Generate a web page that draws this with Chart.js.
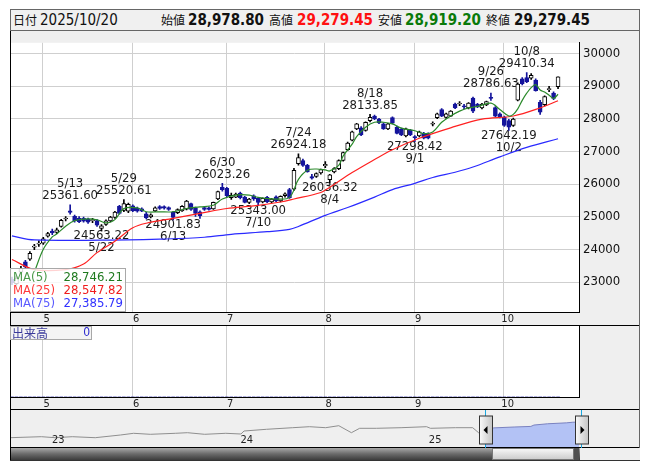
<!DOCTYPE html>
<html>
<head>
<meta charset="utf-8">
<title>JPX日足</title>
<script src="https://cdn.jsdelivr.net/npm/chart.js@4.4.1/dist/chart.umd.min.js"></script>
<style>
    body { margin: 0; width: 653px; height: 470px; background: #fff; position: relative; overflow: hidden; }
    .abs { position: absolute; }
    #head { left: 10px; top: 9px; width: 628px; height: 20px; background: #f0f0f0; border: 1px solid #666; }
    #head span { position: absolute; top: 0; line-height: 20px; white-space: nowrap; color: #111; }
    .jp { font-family: "Noto Sans CJK JP", sans-serif; font-size: 12px; }
    .num { font-family: "DejaVu Sans Condensed", "DejaVu Sans", sans-serif; font-size: 15px; }
    .b { font-weight: bold; }
    #maBox { left: 10px; top: 268px; width: 114px; height: 42px; border: 1px solid #a8a8a8; background: rgba(255, 255, 255, 0.8);
        font-family: "DejaVu Sans Condensed", "DejaVu Sans", sans-serif; font-size: 13px; }
    #maBox span { position: absolute; line-height: 13px; }
    #volBox { left: 10px; top: 326px; width: 80px; height: 12px; border: 1px solid #a8a8a8; background: #f4f4f4; }
    #volBox span { position: absolute; top: -1px; line-height: 13px; }
    #scroll { left: 10px; top: 448px; width: 630px; height: 12px; background: #efefef; border-bottom: 1px solid #333; }
    #scroll div { position: absolute; top: 0; height: 12px; }
    #track { left: 0; width: 569px; border-left: 1px solid #000; background: linear-gradient(#a8a8a8, #6a6a6a 50%, #3c3c3c); }
    #thumb { left: 482px; width: 80px; height: 10px !important; border: 1px solid #777; background: linear-gradient(#f6f6f6, #cdcdcd); }
    #cap { left: 564px; width: 5px; background: #505050; }
</style>
</head>
<body>
<div id="head" class="abs">
    <span class="jp" style="left:2px">日付</span>
    <span class="num" style="left:29px">2025/10/20</span>
    <span class="jp" style="left:150px">始値</span>
    <span class="num b" style="left:177px">28,978.80</span>
    <span class="jp" style="left:258px">高値</span>
    <span class="num b" style="left:286px;color:#ff1010">29,279.45</span>
    <span class="jp" style="left:367px">安値</span>
    <span class="num b" style="left:394px;color:#0a7a0a">28,919.20</span>
    <span class="jp" style="left:475px">終値</span>
    <span class="num b" style="left:503px">29,279.45</span>
</div>

<canvas id="mainChart" class="abs" style="left:10px;top:31px" width="630" height="295"></canvas>
<canvas id="volChart" class="abs" style="left:10px;top:326px" width="630" height="84"></canvas>
<canvas id="navChart" class="abs" style="left:10px;top:410px" width="630" height="38"></canvas>

<div id="maBox" class="abs">
    <span style="left:2px;top:1px;color:#4a9a4a">MA(5)</span><span style="right:2px;top:1px;color:#1f7a1f">28,746.21</span>
    <span style="left:2px;top:14px;color:#ff3a3a">MA(25)</span><span style="right:2px;top:14px;color:#f01c1c">28,547.82</span>
    <span style="left:2px;top:27px;color:#5a5aff">MA(75)</span><span style="right:2px;top:27px;color:#3030ff">27,385.79</span>
</div>
<div id="volBox" class="abs">
    <span class="jp" style="left:1px;font-size:12px;color:#3a3a9a">出来高</span>
    <span class="num" style="right:1px;font-size:12px;color:#2a2ad0">0</span>
</div>
<div id="scroll" class="abs"><div id="track"></div><div id="thumb"></div><div id="cap"></div></div>

<script>
var FONT = "'DejaVu Sans Condensed', 'DejaVu Sans', sans-serif";

// DAILY CANDLES 2025
var dates = ['4/21','4/22','4/23','4/24','4/25','4/28','4/30',
    '5/1','5/2','5/7','5/8','5/9','5/12','5/13','5/14','5/15','5/16','5/19','5/20','5/21','5/22','5/23','5/26','5/27','5/28','5/29','5/30',
    '6/2','6/3','6/4','6/5','6/6','6/9','6/10','6/11','6/12','6/13','6/16','6/17','6/18','6/19','6/20','6/23','6/24','6/25','6/26','6/27','6/30',
    '7/1','7/2','7/3','7/4','7/7','7/8','7/9','7/10','7/11','7/14','7/15','7/16','7/17','7/18','7/22','7/23','7/24','7/25','7/28','7/29','7/30','7/31',
    '8/1','8/4','8/5','8/6','8/7','8/8','8/12','8/13','8/14','8/15','8/18','8/19','8/20','8/21','8/22','8/25','8/26','8/27','8/28','8/29',
    '9/1','9/2','9/3','9/4','9/5','9/8','9/9','9/10','9/11','9/12','9/16','9/17','9/18','9/19','9/22','9/24','9/25','9/26','9/29','9/30',
    '10/1','10/2','10/3','10/6','10/7','10/8','10/9','10/10','10/14','10/15','10/16','10/17','10/20'];

var open = [23080,22950,23300,23620,23700,24070,24160,
    24190,24400,24560,24520,24700,24930,25180,25010,24960,24950,24930,24880,24880,24640,24760,24870,24980,25320,25190,25170,
    25330,25260,25240,25090,24990,25180,25310,25310,25280,25130,25120,25180,25230,25400,25260,25150,25280,25270,25240,25540,25900,
    25870,25580,25600,25720,25600,25440,25640,25560,25450,25590,25450,25610,25480,25640,25830,25840,26620,26720,26570,26230,26230,26340,
    26560,26130,26370,26470,26720,27050,27340,27690,27720,27640,27940,28080,27990,27840,27690,28030,27740,27680,27470,27640,
    27440,27470,27550,27540,27830,28030,28280,28040,28080,28450,28450,28370,28330,28630,28440,28330,28420,28640,28340,28150,
    28050,27940,27790,28570,29220,29260,29240,29180,28500,28430,28890,28780,28978.80];

var high = [23150,23180,23480,23660,23930,24150,24260,
    24370,24520,24620,24650,24920,25000,25361.60,25050,25000,24990,24960,24950,24910,24760,24900,25010,25160,25350,25520.61,25420,
    25360,25290,25270,25130,25090,25300,25340,25330,25300,25160,25240,25340,25500,25420,25290,25180,25310,25300,25450,25780,26023.26,
    25900,25720,25720,25750,25620,25560,25670,25580,25580,25620,25560,25640,25640,25730,25870,26480,26924.18,26760,26600,26300,26340,26460,
    26690,26300,26500,26740,26980,27280,27620,27860,27760,27900,28133.85,28110,28010,27870,27860,28060,27770,27710,27710,27670,
    27480,27620,27580,27570,27900,28170,28310,28170,28250,28480,28520,28440,28490,28660,28470,28470,28540,28786.63,28370,28180,
    28080,27980,28020,29100,29260,29410.34,29380,29220,28560,28700,28990,28820,29279.45];

var low = [22920,22900,23250,23420,23660,23990,24090,
    24150,24370,24450,24480,24680,24870,25080,24830,24820,24830,24790,24820,24700,24563.22,24730,24840,24950,25080,25150,25120,
    25150,25140,25150,24930,24960,25150,25220,25230,25190,24901.83,25090,25160,25210,25190,25010,24950,25190,25200,25220,25520,25780,
    25600,25530,25580,25540,25420,25400,25500,25343.00,25420,25430,25420,25460,25450,25600,25560,25800,26580,26540,26360,26150,26200,26300,
    26500,26036.32,26340,26440,26700,27020,27320,27660,27480,27620,27900,27970,27850,27670,27660,27840,27530,27480,27440,27480,
    27298.42,27440,27380,27380,27780,28000,28060,28010,28060,28310,28400,28300,28300,28180,28340,28300,28400,28560,28060,28020,
    27760,27642.19,27760,28540,29030,29100,29200,28840,28130,28390,28830,28580,28919.20];

var close = [22980,23120,23420,23460,23880,24080,24170,
    24320,24480,24500,24600,24890,24940,25130,24870,24850,24860,24830,24900,24740,24720,24870,24990,25140,25100,25400,25380,
    25180,25170,25170,24960,25060,25270,25250,25260,25220,24980,25220,25320,25480,25220,25100,25030,25220,25220,25440,25770,25830,
    25640,25650,25690,25580,25440,25540,25540,25440,25560,25450,25540,25480,25620,25700,25580,26420,26810,26570,26370,26180,26320,26440,
    26600,26280,26470,26720,26960,27250,27600,27840,27500,27890,28040,27990,27870,27690,27840,27860,27550,27500,27690,27500,
    27420,27600,27400,27400,27850,28150,28080,28150,28230,28330,28460,28360,28480,28230,28360,28450,28520,28620,28080,28060,
    27790,27740,27990,29060,29070,29130,29330,28860,28200,28680,28910,28620,29279.45];

var volume = dates.map(function () { return 0; });

// MOVING AVERAGES
var ma5Dates = ['4/28','5/1','5/7','5/8','5/12','5/14','5/19','5/21','5/23','5/27','5/29','6/3','6/5','6/10','6/13','6/18','6/23','6/26','6/30',
    '7/3','7/8','7/10','7/16','7/22','7/24','7/28','7/30','8/1','8/4','8/6','8/7','8/12','8/13','8/15','8/19','8/21','8/25','8/27',
    '9/1','9/3','9/5','9/9','9/11','9/16','9/18','9/22','9/26','9/30','10/2','10/3','10/6','10/7','10/8','10/9','10/10','10/14','10/15','10/16','10/17','10/20'];
var ma5Values = [23300,24000,24380,24470,24710,24880,24935,24906,24810,24910,25250,25270,25150,25150,25150,25250,25300,25350,25540,
    25660,25660,25590,25540,25590,26140,26420,26460,26430,26400,26570,26860,27220,27450,27740,27890,27890,27840,27710,
    27630,27545,27595,27890,28080,28230,28330,28375,28475,28280,28082,28132,28300,28560,28780,28950,29040,28880,28815,28720,28620,28746.21];

var ma25Dates = ['4/21','4/28','5/12','5/16','5/21','5/27','6/2','6/5','6/13','6/23','7/1','7/9','7/17','7/23','7/31','8/4','8/12','8/19','8/25','9/2','9/11','9/24','10/3','10/14','10/20'];
var ma25Values = [23690,23380,23380,23550,23900,24250,24660,24800,24950,25100,25250,25330,25450,25540,25740,25900,26350,26750,27050,27400,27720,27985,28082,28328,28547.82];

var ma75Dates = ['4/21','4/28','5/30','6/10','6/24','7/2','7/14','7/22','7/24','8/1','8/8','8/19','8/25','9/1','9/5','9/12','9/19','9/30','10/8','10/20'];
var ma75Values = [24410,24290,24290,24310,24370,24460,24540,24610,24700,25040,25280,25600,25830,26020,26200,26360,26520,26830,27120,27385.79];

// HIGH / LOW CALLOUTS
var annDates = ['5/13','5/22','5/29','6/13','6/30','7/10','7/24','8/4','8/18','9/1','9/26','10/2','10/8'];
var annTypes = ['high','low','high','low','high','low','high','low','high','low','high','low','high'];

// AXES
var monthStarts = ['5/1','6/2','7/1','8/1','9/1','10/1'];
var monthLabels = ['5','6','7','8','9','10'];
var priceTicks = [23000,24000,25000,26000,27000,28000,29000,30000];

// NAVIGATOR (LONG RANGE)
var navDates = ['2022/10/13','2022/12/13','2023/01/09','2023/02/12','2023/03/26','2023/05/14','2023/06/09','2023/07/11','2023/08/29',
    '2023/09/22','2023/10/25','2023/12/05','2024/01/04','2024/01/10','2024/02/23','2024/04/13','2024/05/15','2024/06/16','2024/07/11',
    '2024/08/05','2024/08/21','2024/09/23','2024/11/10','2024/12/29','2025/01/06','2025/02/24','2025/03/27','2025/04/08','2025/04/21',
    '2025/05/07','2025/06/16','2025/07/18','2025/07/24','2025/08/20','2025/09/26','2025/10/08','2025/10/20'];
var navValues = [16450,17270,16450,17270,16450,18660,20050,19230,20050,
    20550,19230,20050,19480,21940,23330,24650,25470,24650,26290,
    20550,24150,24150,24650,25470,24150,24650,24650,20550,22980,
    24500,25220,25700,26810,27870,28620,29130,29279];
var navYears = ['23','24','25'];

var UP_LINE = '#000000';
var DOWN = '#14149c';
var GRID = '#cfcfcf';
var X_MIN = -0.44, X_MAX = 126.68;

Chart.defaults.font.family = FONT;
Chart.defaults.animation = false;
Chart.defaults.events = [];
Chart.defaults.plugins.legend.display = false;
Chart.defaults.plugins.tooltip.enabled = false;

function idx(d) { return dates.indexOf(d); }
function maPoints(ds, vs) {
    return ds.map(function (d, k) { return { x: idx(d), y: vs[k] }; });
}
function monthsOf(s) {
    var p = s.split('/');
    return (p[0] - 2023) * 12 + (p[1] - 1) + (p[2] - 1) / 30.5;
}

var bodies = [], wicks = [], bodyFill = [], bodyLine = [], wickColor = [];
dates.forEach(function (d, i) {
    var up = close[i] >= open[i];
    bodies.push({ x: i, y: [open[i], close[i]] });
    wicks.push({ x: i, y: [low[i], high[i]] });
    bodyFill.push(up ? '#ffffff' : DOWN);
    bodyLine.push(up ? UP_LINE : DOWN);
    wickColor.push(up ? UP_LINE : DOWN);
});

var monthTicks = monthStarts.map(function (d) { return { value: idx(d) - 0.15 }; });

// panel background + outer frame lines
function panelBg(areaColor) {
    return {
        id: 'panelBg',
        beforeDraw: function (chart) {
            var c = chart.ctx, a = chart.chartArea;
            c.save();
            c.fillStyle = '#efefef';
            c.fillRect(0, 0, chart.width, chart.height);
            c.fillStyle = areaColor;
            c.fillRect(a.left, a.top, a.right - a.left, a.bottom - a.top);
            c.restore();
        },
        afterDraw: function (chart) {
            var c = chart.ctx;
            c.save();
            c.strokeStyle = '#000';
            c.lineWidth = 1;
            c.beginPath();
            c.moveTo(0.5, 0); c.lineTo(0.5, chart.height);
            c.moveTo(0, chart.height - 0.5); c.lineTo(chart.width, chart.height - 0.5);
            c.stroke();
            c.strokeStyle = '#666';
            c.beginPath();
            c.moveTo(chart.width - 0.5, 0); c.lineTo(chart.width - 0.5, chart.height);
            c.stroke();
            c.restore();
        }
    };
}

// date / price callouts at the swing highs and lows
var peakLabels = {
    id: 'peakLabels',
    beforeDatasetsDraw: function (chart) {
        var c = chart.ctx, xs = chart.scales.x, ys = chart.scales.y;
        c.save();
        c.font = '13px ' + FONT;
        c.fillStyle = '#1a1a1a';
        c.textAlign = 'center';
        c.textBaseline = 'middle';
        annDates.forEach(function (d, k) {
            var i = idx(d);
            var x = xs.getPixelForValue(i);
            var y;
            if (annTypes[k] == 'high') {
                y = ys.getPixelForValue(high[i]);
                c.fillText(high[i].toFixed(2), x, y - 9);
                c.fillText(d, x, y - 21);
            } else {
                y = ys.getPixelForValue(low[i]);
                c.fillText(low[i].toFixed(2), x, y + 5);
                c.fillText(d, x, y + 17);
            }
        });
        c.restore();
    }
};

function xAxis(h) {
    return {
        type: 'linear', min: X_MIN, max: X_MAX, offset: false,
        afterBuildTicks: function (s) { s.ticks = monthTicks.map(function (t) { return { value: t.value }; }); },
        afterFit: function (s) { s.height = h; },
        grid: { color: GRID, drawTicks: false, offset: false },
        border: { color: '#000' },
        ticks: {
            font: { size: 11 }, color: '#222', padding: 1, labelOffset: 4, maxRotation: 0, autoSkip: false,
            callback: function (v, k) { return monthLabels[k]; }
        }
    };
}

// CHART #1: CANDLES + MOVING AVERAGES
var ctxMain = document.getElementById('mainChart').getContext('2d');
var mainChart = new Chart(ctxMain, {
    type: 'bar',
    plugins: [panelBg('#ffffff'), peakLabels],
    data: {
        datasets: [{
            type: 'line', label: 'MA(5)', data: maPoints(ma5Dates, ma5Values),
            borderColor: '#2b8a2b', borderWidth: 1.2, pointRadius: 0, tension: 0.35, order: 0
        }, {
            type: 'line', label: 'MA(25)', data: maPoints(ma25Dates, ma25Values),
            borderColor: '#ff2020', borderWidth: 1.2, pointRadius: 0, tension: 0.35, order: 0
        }, {
            type: 'line', label: 'MA(75)', data: maPoints(ma75Dates, ma75Values),
            borderColor: '#2a2aff', borderWidth: 1.2, pointRadius: 0, tension: 0.35, order: 0
        }, {
            label: 'body', data: bodies, backgroundColor: bodyFill, borderColor: bodyLine,
            borderWidth: 1, borderSkipped: false, barThickness: 4, minBarLength: 1, grouped: false, order: 1
        }, {
            label: 'wick', data: wicks, backgroundColor: wickColor,
            borderWidth: 0, barThickness: 1, grouped: false, order: 2
        }]
    },
    options: {
        responsive: false,
        maintainAspectRatio: false,
        layout: { padding: 0 },
        scales: {
            x: xAxis(14),
            y: {
                position: 'right', min: 22082, max: 30322.6,
                afterBuildTicks: function (s) { s.ticks = priceTicks.map(function (v) { return { value: v }; }); },
                afterFit: function (s) { s.width = 61; },
                grid: { color: GRID, drawTicks: false },
                border: { color: '#000' },
                ticks: { font: { size: 13 }, color: '#111', padding: 4, callback: function (v) { return String(v); } }
            }
        }
    }
});

// CHART #2: VOLUME (EMPTY FOR AN INDEX)
var ctxVol = document.getElementById('volChart').getContext('2d');
var volChart = new Chart(ctxVol, {
    type: 'bar',
    plugins: [panelBg('#ffffff')],
    data: {
        datasets: [{
            data: volume.map(function (v, i) { return { x: i, y: v }; }),
            backgroundColor: '#14149c', barThickness: 3
        }]
    },
    options: {
        responsive: false,
        maintainAspectRatio: false,
        layout: { padding: 0 },
        scales: {
            x: xAxis(13),
            y: {
                position: 'right', min: 0, max: 1,
                afterFit: function (s) { s.width = 61; },
                grid: { display: false },
                border: { color: '#000' },
                ticks: { display: false }
            }
        }
    }
});

// CHART #3: NAVIGATOR
var selStart = monthsOf('2025/' + dates[0]);
var navHandles = {
    id: 'navHandles',
    afterDraw: function (chart) {
        var c = chart.ctx, a = chart.chartArea, xs = chart.scales.x;
        c.save();
        c.font = '11px ' + FONT;
        c.fillStyle = '#222';
        c.textAlign = 'left';
        c.textBaseline = 'middle';
        navYears.forEach(function (y, k) {
            c.fillText(y, xs.getPixelForValue(12 * k) + 1, 30);
        });
        var sx = Math.round(xs.getPixelForValue(selStart)) + 0.5;
        var ex = Math.round(a.right) + 2.5;
        c.strokeStyle = '#1aa8e0';
        c.lineWidth = 1;
        c.beginPath();
        c.moveTo(sx, 0); c.lineTo(sx, chart.height);
        c.moveTo(ex, 0); c.lineTo(ex, chart.height);
        c.stroke();
        [sx, ex].forEach(function (hx, k) {
            var g = c.createLinearGradient(hx - 6, 0, hx + 7, 0);
            g.addColorStop(0, '#fafafa');
            g.addColorStop(1, '#c4c4c4');
            c.fillStyle = g;
            c.fillRect(hx - 6, 6, 13, 28);
            c.strokeStyle = '#333';
            c.strokeRect(hx - 6, 6, 13, 28);
            c.fillStyle = '#000';
            c.beginPath();
            if (k == 0) { c.moveTo(hx - 2, 20); c.lineTo(hx + 2, 16); c.lineTo(hx + 2, 24); }
            else { c.moveTo(hx + 3, 20); c.lineTo(hx - 1, 16); c.lineTo(hx - 1, 24); }
            c.closePath();
            c.fill();
        });
        c.restore();
    }
};

var navPoints = navDates.map(function (d, k) { return { x: monthsOf(d), y: navValues[k] }; });
var navBefore = navPoints.filter(function (p) { return p.x <= selStart + 0.001; });
var navSel = navPoints.filter(function (p) { return p.x >= selStart - 0.001; });
var ctxNav = document.getElementById('navChart').getContext('2d');
var navChart = new Chart(ctxNav, {
    type: 'line',
    plugins: [panelBg('#efefef'), navHandles],
    data: {
        datasets: [{
            data: navSel, borderColor: '#7a82c0', borderWidth: 1, pointRadius: 0,
            fill: 'start', backgroundColor: '#b3c2f5', tension: 0
        }, {
            data: navBefore, borderColor: '#8f8f8f', borderWidth: 1, pointRadius: 0, tension: 0, fill: false
        }]
    },
    options: {
        responsive: false,
        maintainAspectRatio: false,
        layout: { padding: 0 },
        scales: {
            x: { type: 'linear', min: monthsOf('2022/10/13'), max: monthsOf('2025/10/20'), display: false },
            y: {
                position: 'right', min: 8000, max: 39160,
                afterFit: function (s) { s.width = 61; },
                grid: { display: false },
                border: { display: false },
                ticks: { display: false }
            }
        }
    }
});
</script>
</body>
</html>
